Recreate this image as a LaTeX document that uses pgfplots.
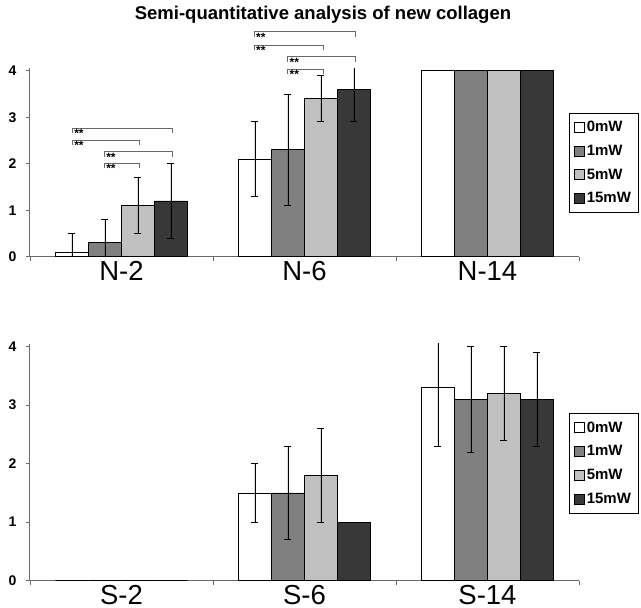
\documentclass[border=0pt]{standalone}
\usepackage{pgfplots}
\pgfplotsset{compat=1.18}
\usepackage{pgfplotstable}
\usepackage{fontspec}
\setmainfont{Liberation Sans}
\definecolor{cA}{RGB}{255,255,255}
\definecolor{cB}{RGB}{128,128,128}
\definecolor{cC}{RGB}{192,192,192}
\definecolor{cD}{RGB}{56,56,56}
\definecolor{axgray}{RGB}{105,105,105}

% top chart (N)
\pgfplotstableread{
x y e
0 0.1 0.4
1 2.1 0.8
2 4.0 0
}\NA
\pgfplotstableread{
x y e
0 0.3 0.5
1 2.3 1.2
2 4.0 0
}\NB
\pgfplotstableread{
x y e
0 1.1 0.6
1 3.4 0.5
2 4.0 0
}\NC
\pgfplotstableread{
x y e
0 1.2 0.8
1 3.6 0.7
2 4.0 0
}\ND
% bottom chart (S)
\pgfplotstableread{
x y e
0 0 0
1 1.5 0.5
2 3.3 1.0
}\SA
\pgfplotstableread{
x y e
0 0 0
1 1.5 0.8
2 3.1 0.9
}\SB
\pgfplotstableread{
x y e
0 0 0
1 1.8 0.8
2 3.2 0.8
}\SC
\pgfplotstableread{
x y e
0 0 0
1 1.0 0
2 3.1 0.8
}\SD

\pgfplotsset{
  mybars/.style={
    scale only axis, width=549pt,
    xmin=-0.5, xmax=2.5, ymin=0, ymax=4.05,
    ybar=0pt, bar width=33pt,
    axis lines*=left,
    axis line style={axgray, line width=1pt},
    xtick={-0.5,0.5,1.5,2.5}, xticklabels={},
    extra x ticks={0,1,2},
    extra x tick style={major tick length=0pt},
    ytick={0,1,2,3,4},
    tick align=outside, major tick length=4pt,
    tick style={axgray, line width=0.8pt},
    yticklabel style={font=\bfseries\fontsize{14}{14}\selectfont, xshift=-6pt},
    xticklabel style={font=\fontsize{27.5}{27.5}\selectfont, yshift=-1pt},
    /pgf/number format/assume math mode=true,
    clip mode=individual,
    error bars/y dir=both, error bars/y explicit,
    error bars/error mark=|,
    error bars/error bar style={black, line width=0.8pt},
    error bars/error mark options={black, mark size=3.5pt, line width=0.8pt},
    legend cell align=left,
    legend image code/.code={\draw[##1,line width=0.5pt,draw=black] (0pt,-5pt) rectangle (10pt,5pt);},
    legend style={anchor=north west, draw=black, line width=0.6pt,
      font=\bfseries\fontsize{15}{15}\selectfont, row sep=8pt,
      inner xsep=5pt, inner ysep=6pt},
  },
  every axis plot/.append style={draw=black, line width=0.6pt},
}
\newcommand{\sigbr}[3]{%
  \draw[axgray, line width=0.6pt] (axis cs:#1,#3) ++(0pt,-5pt) -- (axis cs:#1,#3) -- (axis cs:#2,#3) -- ++(0pt,-5pt);
  \node[anchor=north west, inner sep=0.5pt, xshift=1.5pt, yshift=-0.5pt, font=\bfseries\fontsize{12}{12}\selectfont] at (axis cs:#1,#3) {**};}

\begin{document}
\begin{tikzpicture}
\useasboundingbox (0,0) rectangle (641pt,608pt);
\node[font=\bfseries\fontsize{18.5}{18.5}\selectfont] at (323pt,593pt) {Semi-quantitative analysis of new collagen};

\begin{axis}[mybars, height=188.3pt, at={(30pt,351.3pt)}, anchor=south west,
  extra x tick labels={N-2,N-6,N-14},
  legend style={at={(0.9818,0.765)}}]
\addplot[fill=cA] table[x=x,y=y,y error=e] {\NA};
\addplot[fill=cB] table[x=x,y=y,y error=e] {\NB};
\addplot[fill=cC] table[x=x,y=y,y error=e] {\NC};
\addplot[fill=cD] table[x=x,y=y,y error=e] {\ND};
\legend{0mW,1mW,5mW,15mW}
\sigbr{-0.27}{0.28}{2.76}
\sigbr{-0.27}{0.10}{2.51}
\sigbr{-0.095}{0.28}{2.26}
\sigbr{-0.095}{0.10}{2.01}
\sigbr{0.724}{1.28}{4.84}
\sigbr{0.724}{1.105}{4.55}
\sigbr{0.907}{1.28}{4.30}
\sigbr{0.907}{1.105}{4.04}
\end{axis}

\begin{axis}[mybars, height=237pt, at={(30pt,27.3pt)}, anchor=south west,
  extra x tick labels={S-2,S-6,S-14},
  legend style={at={(0.9818,0.706)}}]
\addplot[fill=cA] table[x=x,y=y,y error=e] {\SA};
\addplot[fill=cB] table[x=x,y=y,y error=e] {\SB};
\addplot[fill=cC] table[x=x,y=y,y error=e] {\SC};
\addplot[fill=cD] table[x=x,y=y,y error=e] {\SD};
\legend{0mW,1mW,5mW,15mW}
\end{axis}
\end{tikzpicture}
\end{document}
